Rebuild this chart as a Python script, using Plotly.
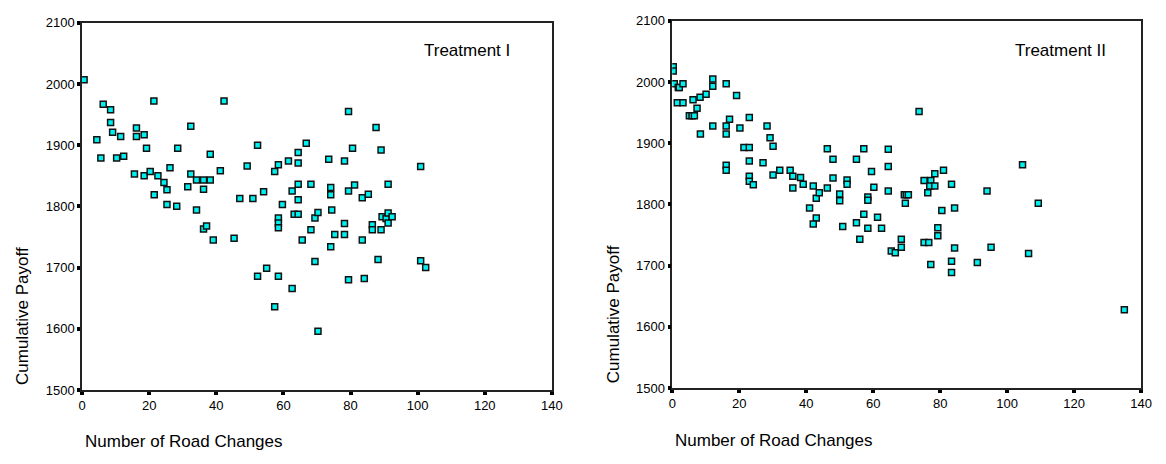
import plotly.graph_objects as go

# Treatment I data (Number of Road Changes, Cumulative Payoff)
t1_x = [0.6, 4.4, 5.6, 6.3, 8.5, 8.5, 9.1, 10.3, 11.5, 12.4, 15.6, 16.2, 16.2, 18.5, 18.5, 19.2,
        20.3, 21.4, 21.5, 22.6, 24.4, 25.3, 25.3, 26.2, 28.2, 28.5, 31.5, 32.4, 32.4, 34.1, 34.1,
        36.2, 36.2, 36.2, 37.1, 38.2, 38.2, 39.1, 41.2, 42.3, 45.3, 47.0, 49.2, 50.9, 52.3, 52.3,
        54.1, 55.0, 57.4, 57.4, 58.5, 58.5, 58.5, 58.5, 58.5, 59.7, 61.5, 62.6, 62.6, 63.2, 64.4,
        64.4, 64.4, 64.4, 64.4, 65.6, 66.8, 68.2, 68.2, 69.4, 69.4, 70.3, 70.3, 73.5, 74.1, 74.1,
        74.4, 74.1, 75.3, 78.2, 78.2, 78.2, 79.4, 79.4, 79.4, 80.6, 81.2, 83.5, 83.5, 84.1, 85.3,
        86.5, 86.5, 87.6, 88.2, 89.1, 89.1, 89.4, 90.6, 91.2, 91.2, 91.2, 92.4, 100.9, 100.9, 102.4]
t1_y = [2007, 1909, 1879, 1967, 1958, 1937, 1921, 1879, 1914, 1882, 1853, 1928, 1914, 1917, 1850, 1895,
        1857, 1972, 1819, 1850, 1839, 1827, 1803, 1863, 1800, 1895, 1832, 1931, 1853, 1843, 1794,
        1843, 1828, 1763, 1768, 1843, 1885, 1745, 1858, 1972, 1748, 1813, 1866, 1813, 1900, 1686,
        1824, 1699, 1857, 1636, 1868, 1781, 1773, 1765, 1686, 1803, 1874, 1825, 1666, 1787, 1787,
        1888, 1871, 1836, 1811, 1745, 1903, 1836, 1762, 1781, 1710, 1790, 1596, 1877, 1831, 1819,
        1794, 1734, 1754, 1874, 1772, 1754, 1955, 1825, 1680, 1895, 1835, 1814, 1745, 1682, 1820,
        1770, 1762, 1929, 1713, 1892, 1762, 1783, 1780, 1836, 1789, 1773, 1783, 1865, 1711, 1700]

# Treatment II data
t2_x = [0.3, 0.3, 0.6, 1.8, 2.1, 3.2, 1.5, 3.2, 6.2, 8.3, 10.1, 12.1, 12.1, 16.1, 19.2, 7.4,
        5.1, 5.9, 6.6, 8.4, 12.1, 16.1, 16.1, 17.1, 20.2, 23.0, 21.4, 23.0, 23.0, 16.1, 16.1,
        27.1, 23.0, 23.0, 24.2, 28.3, 29.2, 30.1, 30.1, 32.1, 35.2, 36.0, 36.0, 38.3, 39.1, 42.1,
        43.0, 43.9, 41.0, 43.0, 42.1, 46.3, 48.0, 48.0, 46.3, 50.0, 50.0, 50.9, 52.2, 52.2, 55.0,
        57.2, 59.5, 60.2, 58.4, 58.4, 55.0, 57.2, 58.4, 61.3, 62.5, 56.0, 64.5, 64.5, 64.5, 65.4,
        66.6, 68.4, 68.4, 69.3, 69.9, 70.5, 69.6, 73.7, 75.2, 77.2, 76.9, 78.4, 76.3, 78.4, 81.0,
        83.4, 80.5, 79.3, 79.3, 75.2, 76.6, 77.2, 84.3, 84.3, 83.4, 83.4, 91.1, 94.0, 95.2, 104.6,
        106.4, 109.3, 135.0]
t2_y = [2025, 2018, 1997, 1991, 1991, 1997, 1966, 1966, 1971, 1975, 1980, 2005, 1993, 1997, 1978, 1957,
        1945, 1945, 1945, 1915, 1928, 1928, 1915, 1939, 1925, 1942, 1893, 1893, 1871, 1864, 1856,
        1868, 1846, 1838, 1832, 1928, 1909, 1895, 1848, 1856, 1856, 1846, 1827, 1844, 1833, 1830,
        1810, 1819, 1794, 1778, 1768, 1891, 1874, 1843, 1827, 1817, 1806, 1764, 1840, 1833, 1874,
        1891, 1854, 1828, 1812, 1807, 1770, 1784, 1761, 1779, 1761, 1743, 1890, 1862, 1822, 1724,
        1721, 1743, 1730, 1816, 1816, 1816, 1802, 1952, 1839, 1839, 1830, 1830, 1819, 1850, 1856,
        1833, 1790, 1762, 1749, 1738, 1738, 1702, 1794, 1729, 1707, 1689, 1705, 1822, 1730, 1865,
        1720, 1802, 1628]

x_ticks = [0, 20, 40, 60, 80, 100, 120, 140]
y_ticks = [1500, 1600, 1700, 1800, 1900, 2000, 2100]
panel_titles = ["Treatment I", "Treatment II"]
x_title = "Number of Road Changes"
y_title = "Cumulative Payoff"

# The page body has an 8px margin; size the figure so the page is exactly 1166x464.
OFF = 8
W, H = 1166 - 2 * OFF, 464 - 2 * OFF
FONT = "Liberation Sans, Arial, sans-serif"


def px(x):
    return (x - OFF) / W


def py(y):
    return 1 - (y - OFF) / H


marker = dict(symbol="square", size=6, color="#00F0F0",
              line=dict(color="#111111", width=1.5))

fig = go.Figure()
fig.add_trace(go.Scatter(x=t1_x, y=t1_y, mode="markers", marker=marker,
                         xaxis="x", yaxis="y", showlegend=False))
fig.add_trace(go.Scatter(x=t2_x, y=t2_y, mode="markers", marker=marker,
                         xaxis="x2", yaxis="y2", showlegend=False))


def xax(dom, anchor):
    return dict(domain=dom, anchor=anchor, range=[0, 140], tickvals=x_ticks,
                showgrid=False, zeroline=False, showline=True, mirror=True,
                linecolor="#222222", linewidth=1.5, ticks="outside", ticklen=3,
                tickwidth=4, tickcolor="#000000",
                tickfont=dict(family=FONT, size=13, color="#000000"))


def yax(dom, anchor):
    return dict(domain=dom, anchor=anchor, range=[1500, 2100], tickvals=y_ticks,
                showgrid=False, zeroline=False, showline=True, mirror=True,
                linecolor="#222222", linewidth=1.5, ticks="outside", ticklen=3,
                tickwidth=4, tickcolor="#000000",
                tickfont=dict(family=FONT, size=13, color="#000000"))


fig.update_layout(
    width=W, height=H, margin=dict(l=0, r=0, t=0, b=0),
    paper_bgcolor="white", plot_bgcolor="white",
    xaxis=xax([px(79), px(555)], "y"),
    yaxis=yax([py(396), py(16)], "x"),
    xaxis2=xax([px(677), px(1152)], "y2"),
    yaxis2=yax([py(394), py(14)], "x2"),
)

ann_font = dict(family=FONT, size=17, color="#000000")
annotations = [
    dict(text=panel_titles[0], x=px(423), y=py(45), xanchor="left", yanchor="middle"),
    dict(text=panel_titles[1], x=px(1022), y=py(45), xanchor="left", yanchor="middle"),
    dict(text=x_title, x=px(80), y=py(449), xanchor="left", yanchor="middle"),
    dict(text=x_title, x=px(678), y=py(448), xanchor="left", yanchor="middle"),
    dict(text=y_title, x=px(18), y=py(393), xanchor="center", yanchor="bottom", textangle=-90),
    dict(text=y_title, x=px(617), y=py(391), xanchor="center", yanchor="bottom", textangle=-90),
]
for a in annotations:
    a.update(xref="paper", yref="paper", showarrow=False, font=ann_font)
fig.update_layout(annotations=annotations)

fig.write_html("out.html")
